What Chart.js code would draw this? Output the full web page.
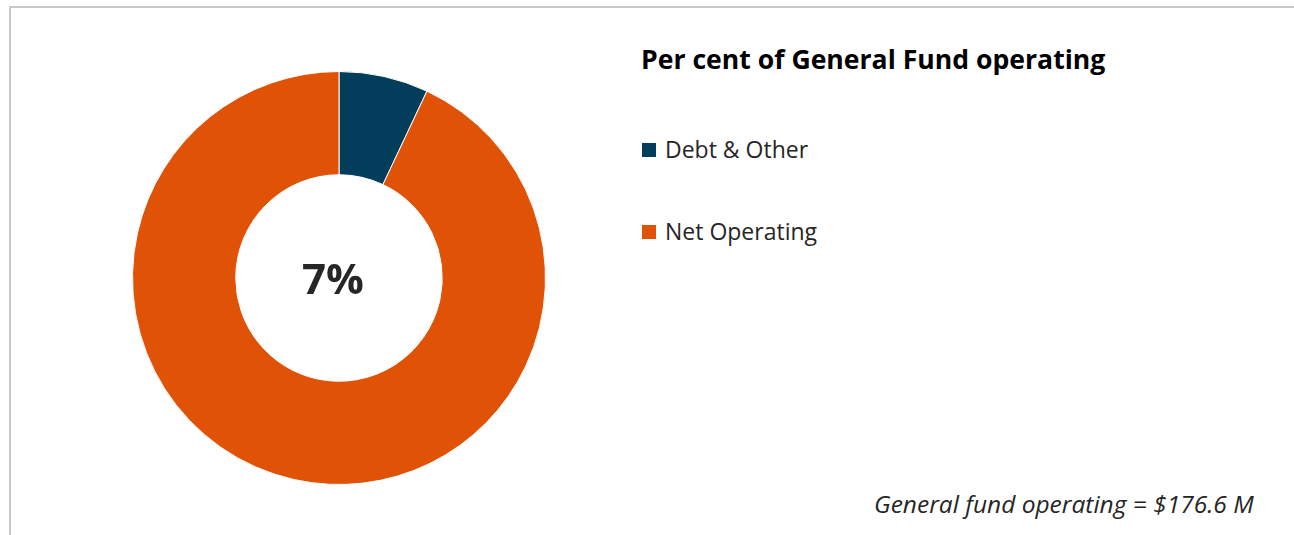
<!DOCTYPE html>
<html>
<head>
<meta charset="utf-8">
<script src="https://cdn.jsdelivr.net/npm/chart.js@4.4.1/dist/chart.umd.min.js"></script>
<style>
  html, body { margin: 0; padding: 0; background: #fff; overflow: hidden; }
  body { width: 1294px; height: 535px; position: relative; font-family: "Open Sans", Lato, sans-serif; }
  .frame { position: absolute; left: 9px; top: 6px; width: 1400px; height: 600px; border: 2px solid #c8c8c8; }
  .chart-box { position: absolute; left: 125px; top: 64px; width: 428px; height: 428px; }
  .legend-title { position: absolute; left: 641px; top: 41px; margin: 0; font-size: 26.6px; font-weight: 700; line-height: 36px; color: #000; white-space: nowrap; }
  #legend { position: absolute; left: 642px; top: 134px; margin: 0; padding: 0; list-style: none; }
  #legend li { display: flex; align-items: flex-start; height: 30px; line-height: 30px; margin-bottom: 52px; font-size: 23px; color: #262626; white-space: nowrap; }
  #legend .swatch { display: inline-block; width: 14px; height: 14px; margin: 9px 9px 0 0; }
  .note { position: absolute; left: 874px; top: 487px; font-size: 24.5px; line-height: 34px; font-style: italic; color: #262626; white-space: nowrap; }
</style>
</head>
<body>
<div class="frame"></div>
<div class="chart-box"><canvas id="fundChart"></canvas></div>
<h2 class="legend-title">Per cent of General Fund operating</h2>
<ul id="legend"></ul>
<div class="note">General fund operating = $176.6 M</div>
<script>
const categories = ['Debt & Other', 'Net Operating'];
const shares = [7, 93];
const sliceColors = ['#023d5b', '#e05206'];

// writes the Debt & Other share in the hole of the doughnut
const centerLabel = {
    id: 'centerLabel',
    afterDraw(chart) {
        const arc = chart.getDatasetMeta(0).data[0];
        if (!arc) return;
        const values = chart.data.datasets[0].data;
        const total = values.reduce((a, b) => a + b, 0);
        const pct = Math.round(values[0] / total * 100);
        const ctx = chart.ctx;
        ctx.save();
        ctx.font = '700 42px "Open Sans", sans-serif';
        ctx.fillStyle = '#262626';
        ctx.textAlign = 'center';
        ctx.textBaseline = 'alphabetic';
        ctx.fillText(pct + '%', arc.x - 6, arc.y + 16);
        ctx.restore();
    }
};

document.addEventListener('DOMContentLoaded', function () {
    const ctx = document.getElementById('fundChart').getContext('2d');
    const fundChart = new Chart(ctx, {
        type: 'doughnut',
        data: {
            labels: categories,
            datasets: [{
                data: shares,
                backgroundColor: sliceColors,
                borderColor: '#ffffff',
                borderWidth: 1
            }]
        },
        options: {
            responsive: true,
            maintainAspectRatio: false,
            animation: false,
            cutout: '50%',
            layout: { padding: 7 },
            plugins: {
                legend: { display: false },
                tooltip: { enabled: false }
            }
        },
        plugins: [centerLabel]
    });

    // HTML legend from the chart's own label items
    const list = document.getElementById('legend');
    fundChart.options.plugins.legend.labels.generateLabels(fundChart).forEach(item => {
        const li = document.createElement('li');
        const box = document.createElement('span');
        box.className = 'swatch';
        box.style.background = item.fillStyle;
        li.appendChild(box);
        li.appendChild(document.createTextNode(item.text));
        list.appendChild(li);
    });

    // redraw once the bold face is in, so the centre label picks it up
    document.fonts.ready.then(() => fundChart.draw());
});
</script>
</body>
</html>
